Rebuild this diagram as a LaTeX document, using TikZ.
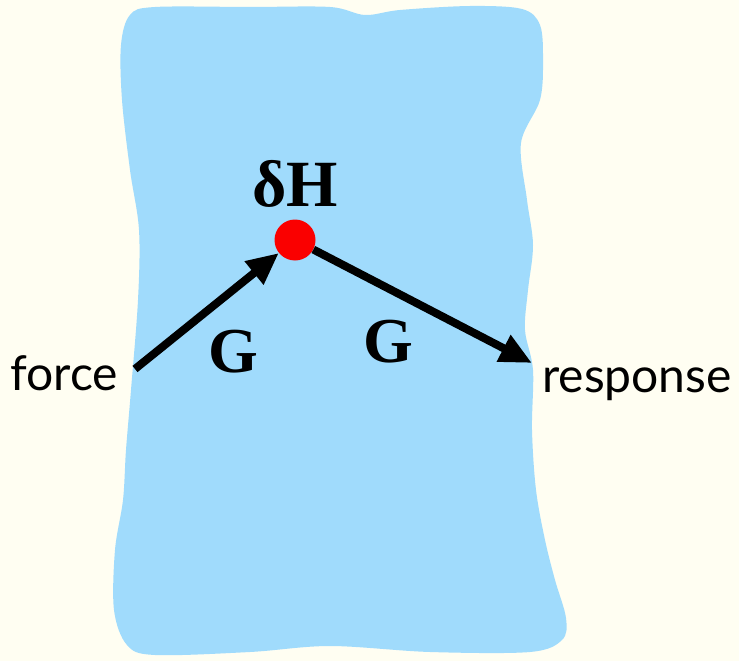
\documentclass[tikz,border=0pt]{standalone}
\usepackage{fontspec}
\setmainfont{Liberation Serif}
\newfontfamily\labelsans{Lato}
\usetikzlibrary{arrows.meta}
\definecolor{bgcream}{RGB}{255,254,242}
\definecolor{blobblue}{RGB}{160,219,252}
\definecolor{dotred}{RGB}{250,0,0}
\tikzset{
  bigarrow/.style={line width=8pt,-{Triangle[length=32pt,width=28pt]}},
  greenlbl/.style={font=\fontsize{64}{70}\selectfont\bfseries,anchor=base,inner sep=0pt},
  sidelbl/.style={font=\labelsans\fontsize{48}{54}\selectfont,anchor=base,inner sep=0pt}
}
\begin{document}
\begin{tikzpicture}[x=1pt,y=-1pt]
\useasboundingbox (0,0) rectangle (739,661);
\fill[bgcream] (0,0) rectangle (739,661);
\fill[blobblue] plot[smooth cycle, tension=0.55] coordinates {
 (155,7) (250,7) (330,7) (365,15) (400,10) (470,6) (522,9) (540,25)
 (543,60) (540,100) (521,143) (527,200) (533,245) (528,290) (525,330) (533,370)
 (532,430) (536,490) (545,540) (555,580) (566,618) (562,640) (530,652)
 (430,652) (330,646) (250,652) (155,655) (127,645) (114,610) (115,550)
 (123,500) (126,450) (131,390) (138,300) (139,230) (130,170) (122,100)
 (121,45) (130,15)};
\node[circle,fill=dotred,minimum size=41pt,inner sep=0pt] (dh) at (295,240) {};
\coordinate (fstart) at (135,369);
\coordinate (rend) at (532,363);
\draw[bigarrow] (fstart) -- (dh);
\draw[bigarrow] (dh) -- (rend);
\node[greenlbl,font=\fontsize{66}{72}\selectfont\bfseries] (dhlbl) at (295,206) {δH};
\node[greenlbl] (g1) at (233,372) {G};
\node[greenlbl] (g2) at (388,362) {G};
\node[sidelbl] (force) at (64,390) {force};
\node[sidelbl] (resp) at (637,392) {response};
\end{tikzpicture}
\end{document}
